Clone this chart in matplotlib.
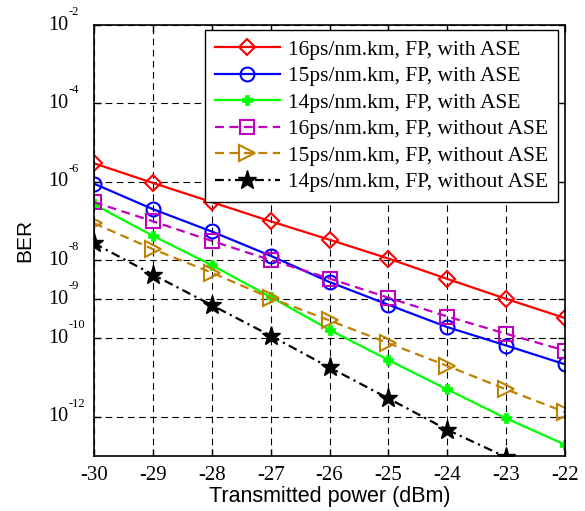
import matplotlib
matplotlib.use("Agg")
import matplotlib.pyplot as plt
import matplotlib.transforms as mtransforms

# transmitted power (dBm)
power = [-30, -29, -28, -27, -26, -25, -24, -23, -22]

# log10(BER)
red_16_ase = [-5.53, -6.03, -6.52, -7.01, -7.48, -7.96, -8.48, -8.99, -9.48]
blue_15_ase = [-6.05, -6.70, -7.27, -7.89, -8.56, -9.14, -9.71, -10.18, -10.66]
green_14_ase = [-6.58, -7.38, -8.13, -8.94, -9.78, -10.55, -11.30, -12.04, -12.71]
mag_16_noase = [-6.52, -7.01, -7.51, -8.00, -8.47, -8.96, -9.44, -9.88, -10.31]
brown_15_noase = [-7.06, -7.72, -8.32, -8.97, -9.54, -10.12, -10.70, -11.30, -11.88]
# last point lies below the axis (-22 dBm not visible)
black_14_noase = [-7.57, -8.37, -9.15, -9.93, -10.74, -11.53, -12.33, -13.03]

labels = ['16ps/nm.km, FP, with ASE',
          '15ps/nm.km, FP, with ASE',
          '14ps/nm.km, FP, with ASE',
          '16ps/nm.km, FP, without ASE',
          '15ps/nm.km, FP, without ASE',
          '14ps/nm.km, FP, without ASE']

ytick_exp = [-2, -4, -6, -8, -9, -10, -12]

plt.rcParams['font.family'] = 'Liberation Serif'

fig = plt.figure(figsize=(5.85, 5.11), dpi=100)
ax = fig.add_axes([94 / 585, 1 - 456 / 511, (565 - 94) / 585, (456 - 25) / 511])

def p(vals):
    return [10.0 ** v for v in vals]

lw = 1.6
ax.semilogy(power, p(red_16_ase), '-', color='#ff0000', lw=lw, marker='D',
            ms=8.5, mfc='none', mew=1.5, label=labels[0])
ax.semilogy(power, p(blue_15_ase), '-', color='#0000ff', lw=lw, marker='o',
            ms=10, mfc='none', mew=1.5, label=labels[1])
ax.semilogy(power, p(green_14_ase), '-', color='#00ff00', lw=lw, marker='P',
            ms=7, mew=0.5, label=labels[2])
ax.semilogy(power, p(mag_16_noase), '--', color='#c000c0', lw=lw, marker='s',
            ms=10, mfc='none', mew=1.5, label=labels[3], dashes=(4, 2.5))
ax.semilogy(power, p(brown_15_noase), '--', color='#c08000', lw=lw, marker='>',
            ms=11, mfc='none', mew=1.5, label=labels[4], dashes=(4, 2.5))
ax.semilogy(power[:len(black_14_noase)], p(black_14_noase), '-.', color='black',
            lw=lw, marker='*', ms=14, label=labels[5], dashes=(4, 2, 1, 2))

ax.set_xlim(-30, -22)
ax.set_ylim(1e-13, 1e-2)
ax.set_xticks(power)
ax.set_xticklabels([str(v) for v in power], fontsize=15)

# MATLAB-style y labels: "10" left aligned, small exponent floating above
ax.set_yticks([10.0 ** e for e in ytick_exp])
ax.set_yticklabels(['10'] * len(ytick_exp), fontsize=14.5, ha='left', va='center')
ax.yaxis.set_minor_locator(matplotlib.ticker.NullLocator())
ax.tick_params(direction='in', length=5, top=True, right=True, width=1)
ax.tick_params(axis='x', pad=7)
ax.tick_params(axis='y', pad=46 * 0.72)
exp_tr = mtransforms.offset_copy(
    mtransforms.blended_transform_factory(fig.transFigure, ax.transData),
    fig=fig, x=0, y=13, units='dots')
for e in ytick_exp:
    ax.text(69 / 585, 10.0 ** e, str(e), transform=exp_tr, fontsize=9,
            ha='left', va='center', clip_on=False)

ax.grid(True, which='major', color='black', linestyle=(0, (6, 4)), lw=0.8)
for s in ax.spines.values():
    s.set_linewidth(1.2)

ax.set_xlabel('Transmitted power (dBm)', fontfamily='Liberation Sans', fontsize=15.5, labelpad=1)
ax.set_ylabel('BER', fontfamily='Liberation Sans', fontsize=15, labelpad=10)

leg = ax.legend(loc='upper right', bbox_to_anchor=((558 - 94) / 471, 1 - 5 / 431),
                prop={'family': 'Liberation Serif', 'size': 15.5},
                fancybox=False, edgecolor='black', framealpha=1, handlelength=3.0,
                borderaxespad=0, labelspacing=0.3, handletextpad=0.4, borderpad=0.45)
leg.get_frame().set_linewidth(1)

fig.savefig('out.png', dpi=100)
